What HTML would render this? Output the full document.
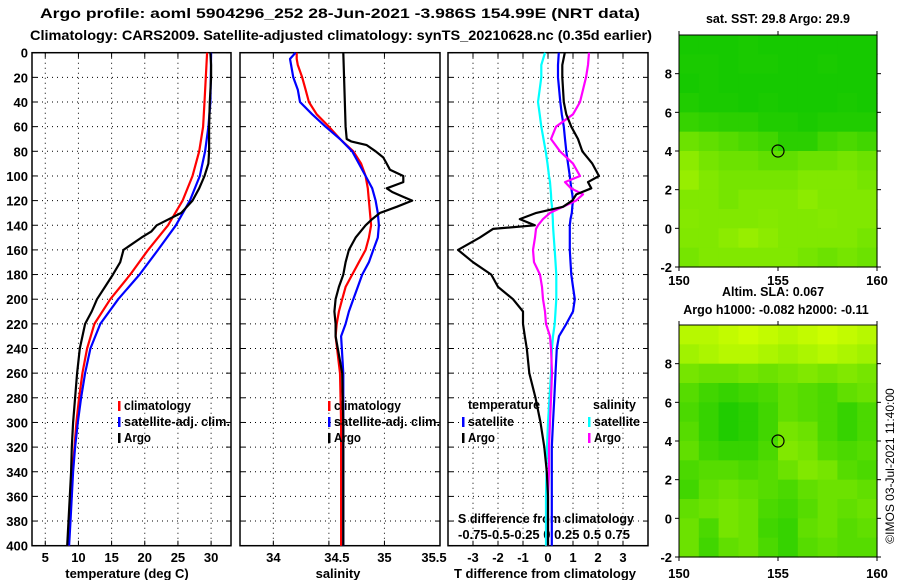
<!DOCTYPE html>
<html><head><meta charset="utf-8"><style>
html,body{margin:0;padding:0;background:#fff;}
svg{display:block;font-family:"Liberation Sans",Arial,sans-serif;font-weight:bold;}
</style></head><body>
<svg id="fig" width="900" height="580" viewBox="0 0 900 580" xmlns="http://www.w3.org/2000/svg">
<text x="340" y="18" font-size="14" text-anchor="middle" textLength="600" lengthAdjust="spacingAndGlyphs">Argo profile: aoml 5904296_252 28-Jun-2021 -3.986S 154.99E (NRT data)</text>
<text x="30" y="40" font-size="14" textLength="622" lengthAdjust="spacingAndGlyphs">Climatology: CARS2009. Satellite-adjusted climatology: synTS_20210628.nc (0.35d earlier)</text>
<g id="g"></g>
</svg>
<script>
// ---- data ----
const depthTicks=[0,20,40,60,80,100,120,140,160,180,200,220,240,260,280,300,320,340,360,380,400];
const tempTicks=[5,10,15,20,25,30];
const salTicks=[34,34.5,35];
const salTickLabels=["34","34.5","35","35.5"];
const dTTicks=[-3,-2,-1,0,1,2,3];
const dSTickLabels="-0.75-0.5-0.25  0   0.25 0.5 0.75";

const tDepthClim=[0,20,40,60,80,100,120,140,160,180,200,220,240,260,280,300,320,340,360,380,400];
const tempClim=[29.4,29.2,29.0,28.8,28.2,27.2,25.7,23.5,20.5,17.8,14.8,12.4,11.3,10.6,10.1,9.7,9.4,9.1,8.9,8.7,8.5];
const tempSat=[30.0,29.95,29.9,29.6,29.1,28.3,26.8,24.7,22.0,19.2,16.0,13.3,11.8,11.0,10.4,9.9,9.5,9.2,9.0,8.8,8.6];
const tDepthArgo=[0,10,20,40,60,80,90,100,110,120,130,140,145,150,160,170,180,190,200,210,220,240,260,280,300,320,340,360,380,400];
const tempArgo=[29.9,30.0,30.0,29.8,29.7,29.7,29.6,29.0,28.2,27.2,25.5,21.8,21.0,19.5,16.8,16.3,15.2,14.0,12.8,12.0,11.0,10.2,9.8,9.5,9.2,9.0,8.9,8.7,8.5,8.3];

const sDepth=[0,5,10,20,30,40,50,60,70,80,90,100,110,120,130,140,150,160,170,180,190,200,210,220,230,260,300,400];
const salClim=[34.21,34.21,34.22,34.26,34.29,34.32,34.39,34.5,34.6,34.72,34.79,34.83,34.85,34.86,34.87,34.88,34.86,34.83,34.77,34.71,34.65,34.62,34.59,34.57,34.56,34.6,34.61,34.61];
const salSat=[34.2,34.15,34.16,34.18,34.22,34.24,34.35,34.47,34.6,34.71,34.77,34.83,34.89,34.92,34.94,34.95,34.94,34.9,34.86,34.8,34.76,34.72,34.68,34.65,34.61,34.63,34.63,34.63];
const sDepthArgo=[0,60,70,72,75,80,85,90,95,100,105,110,113,117,120,125,130,135,140,150,160,170,180,190,200,210,220,230,260,300,400];
const salArgo=[34.63,34.65,34.66,34.7,34.84,34.92,34.99,35.02,35.05,35.17,35.17,35.02,35.07,35.17,35.25,35.11,34.96,34.89,34.83,34.74,34.68,34.65,34.63,34.59,34.56,34.55,34.56,34.56,34.62,34.63,34.63];

const dDepth=[0,10,20,40,50,60,70,80,90,100,105,110,115,120,125,130,135,140,143,150,160,170,180,190,200,210,220,230,240,260,280,300,320,340,360,400];
const dTSat=[0.43,0.4,0.4,0.49,0.55,0.63,0.68,0.73,0.8,0.87,0.9,0.93,0.97,1.0,0.97,0.95,0.9,0.87,0.87,0.87,0.87,0.9,0.93,1.0,1.07,1.0,0.73,0.44,0.35,0.3,0.25,0.2,0.15,0.15,0.15,0.15];
const dTArgo=[0.67,0.57,0.57,0.63,0.73,0.93,1.2,1.37,1.77,2.04,1.6,1.73,1.13,0.97,0.6,-0.47,-1.13,-0.53,-2.2,-2.73,-3.6,-3.0,-2.27,-2.0,-1.4,-1.0,-1.0,-0.93,-0.85,-0.75,-0.5,-0.3,-0.15,-0.05,0.0,0.0];
const dSSat=[-0.03,-0.067,-0.067,-0.1,-0.083,-0.067,-0.045,-0.023,-0.005,0.01,0.02,0.025,0.03,0.033,0.04,0.045,0.048,0.05,0.052,0.058,0.067,0.075,0.083,0.083,0.083,0.075,0.067,0.05,0.04,0.03,0.015,0.0,-0.01,-0.015,-0.02,-0.02];
const dSArgo=[0.41,0.4,0.38,0.32,0.25,0.08,0.03,0.12,0.25,0.32,0.17,0.23,0.35,0.28,0.15,0.02,-0.05,-0.1,-0.12,-0.13,-0.15,-0.14,-0.08,-0.06,-0.05,-0.03,-0.02,0.02,0.03,0.04,0.03,0.02,0.01,0.01,0.0,0.0];

const lonTicks=[150,155,160];
const latTicks=[-2,0,2,4,6,8];
const sstGrid=[
[0.1,0.1,0.1,0.12,0.1,0.1,0.1,0.1,0.1,0.1],
[0.12,0.12,0.1,0.12,0.12,0.1,0.1,0.12,0.1,0.1],
[0.1,0.12,0.1,0.1,0.1,0.1,0.1,0.1,0.1,0.1],
[0.15,0.12,0.12,0.1,0.12,0.1,0.1,0.1,0.12,0.1],
[0.25,0.22,0.2,0.2,0.15,0.15,0.12,0.15,0.15,0.15],
[0.5,0.45,0.4,0.35,0.3,0.2,0.2,0.3,0.35,0.3],
[0.65,0.55,0.5,0.5,0.45,0.45,0.5,0.5,0.55,0.5],
[0.7,0.6,0.55,0.55,0.55,0.55,0.6,0.6,0.6,0.55],
[0.6,0.6,0.55,0.6,0.6,0.6,0.65,0.6,0.6,0.6],
[0.62,0.6,0.6,0.6,0.62,0.6,0.6,0.62,0.6,0.6],
[0.6,0.6,0.65,0.7,0.65,0.6,0.6,0.6,0.6,0.55],
[0.55,0.6,0.6,0.6,0.6,0.6,0.55,0.5,0.55,0.5]];
const slaGrid=[
[0.85,0.85,0.9,0.95,0.9,0.85,0.9,0.95,0.9,0.85],
[0.75,0.8,0.85,0.85,0.8,0.75,0.8,0.85,0.8,0.75],
[0.55,0.5,0.5,0.55,0.5,0.55,0.6,0.55,0.6,0.55],
[0.4,0.3,0.25,0.3,0.35,0.45,0.4,0.35,0.45,0.5],
[0.35,0.25,0.15,0.2,0.3,0.45,0.4,0.35,0.25,0.35],
[0.4,0.25,0.15,0.2,0.3,0.55,0.5,0.35,0.25,0.35],
[0.45,0.3,0.25,0.25,0.35,0.6,0.55,0.4,0.35,0.4],
[0.35,0.4,0.4,0.35,0.4,0.5,0.6,0.55,0.4,0.35],
[0.3,0.45,0.5,0.45,0.4,0.35,0.45,0.5,0.5,0.45],
[0.45,0.5,0.55,0.5,0.35,0.3,0.4,0.5,0.45,0.5],
[0.5,0.35,0.55,0.5,0.3,0.25,0.45,0.5,0.4,0.45],
[0.5,0.3,0.45,0.5,0.35,0.25,0.4,0.45,0.4,0.4]];
const argoLon=155, argoLat=4;

// ---- layout ----
const NS='http://www.w3.org/2000/svg';
const G=document.getElementById('g');
function mk(tag,at,parent){const e=document.createElementNS(NS,tag);for(const k in at)e.setAttribute(k,at[k]);(parent||G).appendChild(e);return e;}
const Y0=52.7,Y1=545.7;
const yD=d=>Y0+(Y1-Y0)*d/400;
const P=[{x0:32,x1:231,lo:3,hi:33},{x0:240,x1:440,lo:33.7,hi:35.5},{x0:448,x1:648,lo:-4,hi:4}];
const xs=(p,v)=>p.x0+(p.x1-p.x0)*(v-p.lo)/(p.hi-p.lo);
const xT=v=>xs(P[0],v), xS=v=>xs(P[1],v), xDT=v=>xs(P[2],v), xDS=v=>xs(P[2],v*4);

function panelFrame(p,xt,xf,name){
  const g=mk('g',{});
  
  
  depthTicks.forEach(d=>{
    const y=yD(d);
    if(d>0&&d<400){const l=mk('line',{x1:p.x0,x2:p.x1,y1:y,y2:y,stroke:'#000','stroke-width':1,'stroke-dasharray':'1 4'},g);
      }
    mk('line',{x1:p.x0,x2:p.x0+5,y1:y,y2:y,stroke:'#000','stroke-width':1},g);
    mk('line',{x1:p.x1-5,x2:p.x1,y1:y,y2:y,stroke:'#000','stroke-width':1},g);
  });
  xt.forEach(v=>{
    const x=xf(v);
    const l=mk('line',{x1:x,x2:x,y1:Y0,y2:Y1,stroke:'#000','stroke-width':1,'stroke-dasharray':'1 4'},g);
    
    mk('line',{x1:x,x2:x,y1:Y1-5,y2:Y1,stroke:'#000'},g);
    mk('line',{x1:x,x2:x,y1:Y0,y2:Y0+5,stroke:'#000'},g);
  });
  mk('rect',{x:p.x0,y:Y0,width:p.x1-p.x0,height:Y1-Y0,fill:'none',stroke:'#000','stroke-width':1.5},g);
}
panelFrame(P[0],tempTicks,xT,'temperature-panel');
panelFrame(P[1],salTicks,xS,'salinity-panel');
panelFrame(P[2],dTTicks,xDT,'difference-panel');

depthTicks.forEach(d=>{const t=mk('text',{x:28,y:yD(d)+5,'font-size':13,'text-anchor':'end'});t.textContent=d;
  });
tempTicks.forEach(v=>{const t=mk('text',{x:xT(v),y:562,'font-size':13,'text-anchor':'middle'});t.textContent=v;
  });
[34,34.5,35,35.5].forEach((v,i)=>{const t=mk('text',{x:xS(v)+(i==3?-6:0)+(i==1?8:0),y:562,'font-size':13,'text-anchor':'middle'});t.textContent=salTickLabels[i];
  });
dTTicks.forEach(v=>{const t=mk('text',{x:xDT(v),y:562,'font-size':13,'text-anchor':'middle'});t.textContent=v;
  });
[['temperature (deg C)',127,'x-axis-title-temperature'],['salinity',338,'x-axis-title-salinity'],['T difference from climatology',545,'x-axis-title-t-diff']].forEach(a=>{
  const t=mk('text',{x:a[1],y:578,'font-size':13,'text-anchor':'middle'});t.textContent=a[0];
  });
{const t=mk('text',{x:458,y:523,'font-size':13,textLength:176,lengthAdjust:'spacingAndGlyphs'});t.textContent='S difference from climatology';
 
 const u=mk('text',{x:458,y:539,'font-size':13,'xml:space':'preserve'});u.textContent=dSTickLabels;
 }

function line(xsArr,ds,xf,col,name){
  const pts=xsArr.map((v,i)=>xf(v).toFixed(1)+','+yD(ds[i]).toFixed(1)).join(' ');
  const l=mk('polyline',{points:pts,fill:'none',stroke:col,'stroke-width':2.2,'stroke-linejoin':'round'});
  
}
line(tempClim,tDepthClim,xT,'#f00','temperature-climatology-line');
line(tempSat,tDepthClim,xT,'#00f','temperature-satellite-line');
line(tempArgo,tDepthArgo,xT,'#000','temperature-argo-line');
line(salClim,sDepth,xS,'#f00','salinity-climatology-line');
line(salSat,sDepth,xS,'#00f','salinity-satellite-line');
line(salArgo,sDepthArgo,xS,'#000','salinity-argo-line');
line(dSSat,dDepth,xDS,'#0ff','s-diff-satellite-line');
line(dTSat,dDepth,xDT,'#00f','t-diff-satellite-line');
line(dSArgo,dDepth,xDS,'#f0f','s-diff-argo-line');
line(dTArgo,dDepth,xDT,'#000','t-diff-argo-line');

function leg(x,y,col,txt,name,w){
  mk('rect',{x:x,y:y-9,width:2.5,height:10,fill:col});
  const at={x:x+6,y:y,'font-size':12.5};
  if(w){at.textLength=w;at.lengthAdjust='spacingAndGlyphs';}
  const t=mk('text',at);t.textContent=txt;
  
}
leg(118,410,'#f00','climatology','legend-entry-climatology',67);
leg(118,426,'#00f','satellite-adj. clim.','legend-entry-satellite',106);
leg(118,442,'#000','Argo','legend-entry-argo',27);
leg(328,410,'#f00','climatology','legend-entry-climatology-2',67);
leg(328,426,'#00f','satellite-adj. clim.','legend-entry-satellite-2',106);
leg(328,442,'#000','Argo','legend-entry-argo-2',27);
{const t=mk('text',{x:468,y:409,'font-size':12.5,textLength:72,lengthAdjust:'spacingAndGlyphs'});t.textContent='temperature';
 const u=mk('text',{x:593,y:409,'font-size':12.5,textLength:43,lengthAdjust:'spacingAndGlyphs'});u.textContent='salinity';}
leg(462,426,'#00f','satellite','legend-entry-t-satellite',46);
leg(462,442,'#000','Argo','legend-entry-t-argo',27);
leg(588,426,'#0ff','satellite','legend-entry-s-satellite',46);
leg(588,442,'#f0f','Argo','legend-entry-s-argo',27);

function col(v){const r=Math.round(v*215),g=Math.min(255,Math.round(195+v*62));return 'rgb('+r+','+g+',0)';}
function drawMap(grid,x0,y0,x1,y1,name,lonLabY){
  const g=mk('g',{});
  const lx=lon=>x0+(x1-x0)*(lon-150)/10, ly=lat=>y1-(y1-y0)*(lat+2)/12;
  grid.forEach((row,r)=>row.forEach((v,c)=>{
    const cell=mk('rect',{x:lx(150+c).toFixed(2),y:ly(10-r).toFixed(2),width:(lx(151)-lx(150)+0.6).toFixed(2),height:(ly(0)-ly(1)+0.6).toFixed(2),fill:col(v)},g);
    
  }));
  mk('rect',{x:x0,y:y0,width:x1-x0,height:y1-y0,fill:'none',stroke:'#000','stroke-width':1},g);
  const c=mk('circle',{cx:lx(argoLon),cy:ly(argoLat),r:6,fill:'none',stroke:'#000','stroke-width':1.2},g);
  
  latTicks.forEach(l=>{const y=ly(l);mk('line',{x1:x0-4,x2:x0,y1:y,y2:y,stroke:'#000'},g);mk('line',{x1:x1,x2:x1+4,y1:y,y2:y,stroke:'#000'},g);
    const t=mk('text',{x:x0-7,y:y+5,'font-size':13,'text-anchor':'end'},g);t.textContent=l;
    });
  lonTicks.forEach(l=>{const x=lx(l);mk('line',{x1:x,x2:x,y1:y0-4,y2:y0,stroke:'#000'},g);mk('line',{x1:x,x2:x,y1:y1,y2:y1+4,stroke:'#000'},g);
    const t=mk('text',{x:x,y:lonLabY,'font-size':13,'text-anchor':'middle'},g);t.textContent=l;
    });
}
drawMap(sstGrid,679,35,877,267,'sst-map',285);
drawMap(slaGrid,679,325,877,557,'sla-map',578);
[['sat. SST: 29.8 Argo: 29.9',778,23,'sst-map-title'],['Altim. SLA: 0.067',773,296,'sla-value-label'],['Argo h1000: -0.082 h2000: -0.11',776,314,'argo-height-label']].forEach(a=>{
  const t=mk('text',{x:a[1],y:a[2],'font-size':12.5,'text-anchor':'middle'});t.textContent=a[0];
  });
{const t=mk('text',{x:0,y:0,'font-size':12,'font-weight':'normal','text-anchor':'middle',transform:'translate(894,466) rotate(-90)'});
 t.textContent='©IMOS 03-Jul-2021 11:40:00';}
</script>
</body></html>
